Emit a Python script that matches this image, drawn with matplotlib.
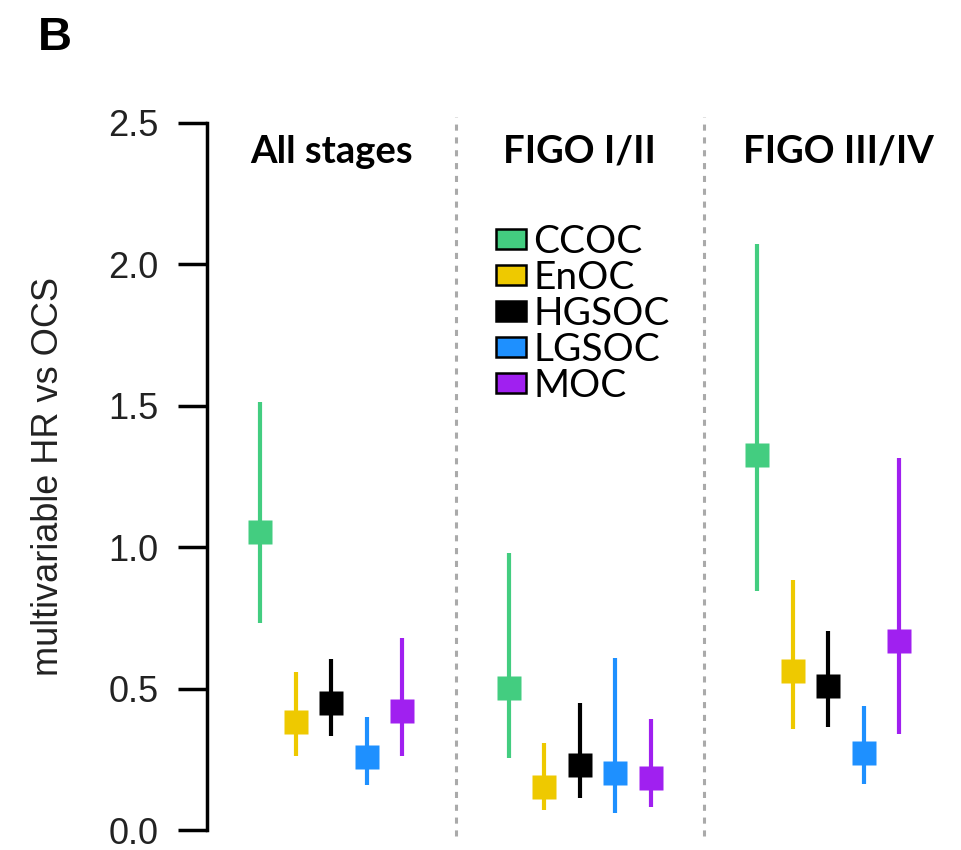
import matplotlib
matplotlib.use("Agg")
import matplotlib.pyplot as plt
from matplotlib.patches import Patch

subtypes = ["CCOC", "EnOC", "HGSOC", "LGSOC", "MOC"]
colors = ["#43CD80", "#EEC900", "#000000", "#1E90FF", "#A020F0"]
groups = ["All stages", "FIGO I/II", "FIGO III/IV"]

# hazard ratio, lower CI, upper CI per group (order follows subtypes)
hr_all = [1.053, 0.383, 0.450, 0.257, 0.421]
lo_all = [0.731, 0.260, 0.332, 0.159, 0.260]
hi_all = [1.513, 0.560, 0.604, 0.400, 0.678]

hr_early = [0.501, 0.151, 0.230, 0.203, 0.183]
lo_early = [0.254, 0.071, 0.112, 0.061, 0.082]
hi_early = [0.980, 0.309, 0.450, 0.607, 0.391]

hr_late = [1.326, 0.563, 0.509, 0.271, 0.669]
lo_late = [0.845, 0.356, 0.365, 0.162, 0.339]
hi_late = [2.072, 0.884, 0.705, 0.440, 1.316]

yticks = [0.0, 0.5, 1.0, 1.5, 2.0, 2.5]

W, H = 962, 850
fig = plt.figure(figsize=(W / 100, H / 100), dpi=100)
ax = fig.add_axes([207 / W, 20 / H, 745.5 / W, 707 / H])

hr = [hr_all, hr_early, hr_late]
lo = [lo_all, lo_early, lo_late]
hi = [hi_all, hi_early, hi_late]

for g in range(3):
    for i in range(5):
        x = 7 * g + i
        ax.plot([x, x], [lo[g][i], hi[g][i]], color=colors[i], lw=3,
                solid_capstyle="butt", clip_on=False, zorder=2)
        ax.plot(x, hr[g][i], marker="s", ms=17, mec="none", color=colors[i],
                clip_on=False, zorder=3)

for sep in [5.5, 12.5]:
    ax.plot([sep, sep], [-0.02, 2.52], color="#aaaaaa", lw=2.2,
            linestyle=(0, (2, 2.2)), clip_on=False, zorder=1)

title_x = [2, 9, 16.3]
for tx, name in zip(title_x, groups):
    ax.text(tx, 2.36, name, ha="center", va="baseline", fontsize=27.5,
            fontweight="bold", family="Lato")

ax.set_xlim(-1.5, 19.5)
ax.set_ylim(0, 2.5)
ax.set_yticks(yticks)
ax.set_yticklabels(["%.1f" % t for t in yticks], fontsize=26, color="#222222",
                   family="Liberation Sans")
ax.tick_params(axis="y", length=21, width=2.5, pad=14)
for s in ["top", "right", "bottom"]:
    ax.spines[s].set_visible(False)
ax.spines["left"].set_linewidth(2.5)
ax.set_xticks([])
ax.set_ylabel("multivariable HR vs OCS", fontsize=26, family="Liberation Sans",
              color="#222222", labelpad=30)

handles = [Patch(facecolor=c, edgecolor="black", lw=1.8) for c in colors]
fig.legend(handles, subtypes, loc="upper left",
           bbox_to_anchor=(496 / W, 1 - 224 / H), frameon=False,
           prop={"family": "Lato", "size": 28}, borderpad=0, borderaxespad=0,
           handlelength=0.78, handleheight=0.44, handletextpad=0.18,
           labelspacing=0.0)

fig.text(38 / W, 1 - 50 / H, "B", fontsize=34, fontweight="bold",
         family="Liberation Sans")

fig.savefig("out.png", dpi=100)
